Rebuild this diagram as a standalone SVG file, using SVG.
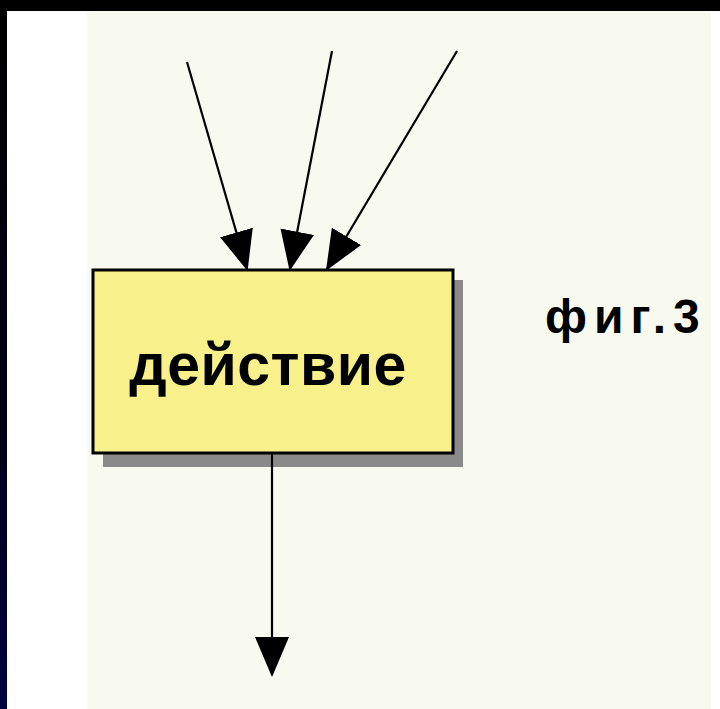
<svg xmlns="http://www.w3.org/2000/svg" width="720" height="709" viewBox="0 0 720 709">
  <defs>
    <linearGradient id="strip" x1="0" y1="0" x2="0" y2="1">
      <stop offset="0" stop-color="#000000"/>
      <stop offset="0.6" stop-color="#00001a"/>
      <stop offset="1" stop-color="#000040"/>
    </linearGradient>
    <marker id="arr" viewBox="0 0 40 36" refX="38" refY="18" markerWidth="40" markerHeight="36" markerUnits="userSpaceOnUse" orient="auto">
      <path d="M0,1 L40,18 L0,35 Z" fill="#000"/>
    </marker>
  </defs>
  <style>
    .conn { stroke: #000; stroke-width: 2.2; fill: none; marker-end: url(#arr); }
    .lbl { font-family: "Liberation Sans", Arial, sans-serif; font-weight: bold; fill: #000; }
  </style>

  <!-- background -->
  <rect x="0" y="0" width="720" height="709" fill="#ffffff"/>
  <rect x="0" y="0" width="720" height="11" fill="#000"/>
  <rect x="0" y="0" width="7" height="709" fill="url(#strip)"/>
  <rect x="87" y="11" width="624" height="698" fill="#f8faf0"/>

  <!-- node -->
  <g id="node-action">
    <rect x="103" y="280" width="360" height="187" fill="#8a8a8a"/>
    <rect x="93" y="270" width="360" height="183" fill="#f8f08a" stroke="#000" stroke-width="3"/>
    <text class="lbl" x="268" y="385" font-size="59" text-anchor="middle" letter-spacing="0.5">действие</text>
  </g>

  <g id="caption">
    <text class="lbl" x="545" y="333" font-size="48" letter-spacing="7">фиг.3</text>
  </g>

  <!-- connectors -->
  <g id="connectors">
    <line class="conn" x1="187" y1="62" x2="247" y2="269"/>
    <line class="conn" x1="332" y1="51" x2="290" y2="269"/>
    <line class="conn" x1="457" y1="51" x2="327" y2="269"/>
    <line class="conn" x1="272" y1="453" x2="272" y2="675"/>
  </g>
</svg>
